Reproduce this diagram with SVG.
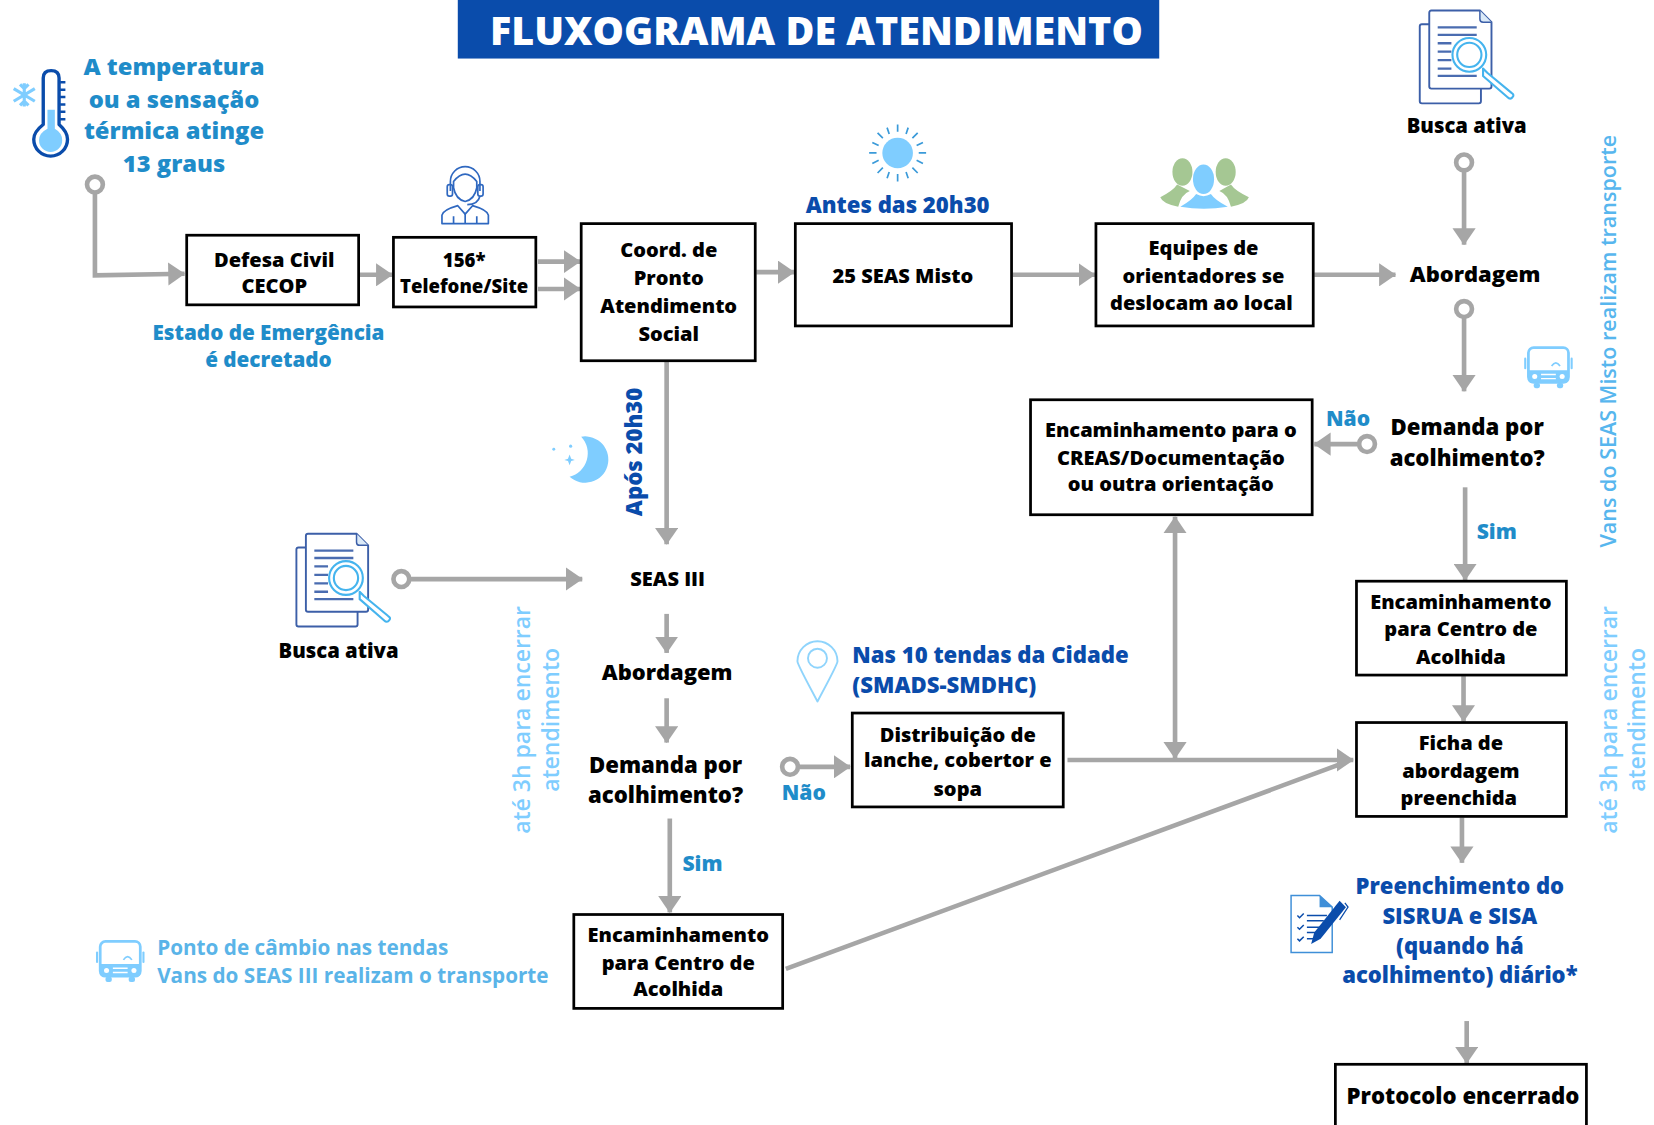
<svg xmlns="http://www.w3.org/2000/svg" xmlns:xlink="http://www.w3.org/1999/xlink" width="1654" height="1125" viewBox="0 0 1654 1125">
<style>
text{font-family:"Open Sans","Noto Sans","Liberation Sans",sans-serif;font-weight:800;text-anchor:middle}
.b{fill:#000;font-size:19px}
.b2{fill:#000;font-size:21px}
.c{fill:#1f8cc9;font-size:20px}
.t{fill:#1f8cc9;font-size:22.5px}
.e{fill:#1f8cc9;font-size:19.6px}
.d{fill:#0a4cab;font-size:21px}
.l{fill:#7fcdff;font-size:21.8px;font-weight:600}
.v{fill:#57b6ee;font-size:20.4px;font-weight:600}
.p{fill:#5ab4e8;font-size:19.65px;font-weight:700;text-anchor:start}
.s{text-anchor:start}
.box{fill:#fff;stroke:#000;stroke-width:2.6}
.con{fill:none;stroke:#a6a6a6;stroke-width:4.4}
.ring{fill:#fff;stroke:#a6a6a6;stroke-width:4.4}
</style>
<defs>
<marker id="ah" markerUnits="userSpaceOnUse" viewBox="0 0 16 22" markerWidth="16" markerHeight="22" refX="15.5" refY="11" orient="auto-start-reverse"><path d="M0,0 L16,11 L0,22 Z" fill="#a6a6a6"/></marker>
<symbol id="doc" viewBox="0 0 92 92" width="92" height="92" overflow="visible">
<path d="M10,14 H3 Q1,14 1,16 V87 Q1,89 3,89 H57 Q59,89 59,87 V75" fill="none" stroke="#3c5fa8" stroke-width="1.8"/>
<path d="M12,1 H58 L69,12 V73 Q69,75 67,75 H12 Q10,75 10,73 V3 Q10,1 12,1 Z" fill="#fff" stroke="#3c5fa8" stroke-width="1.8"/>
<path d="M58,1 V9 Q58,12 61,12 H69" fill="#dbeaf8" stroke="#3c5fa8" stroke-width="1.4"/>
<path d="M18,17H55M18,24H55M18,32H31M18,40H31M18,48H31M18,56H31M18,63H55" stroke="#4a6cb0" stroke-width="2.2" fill="none"/>
<circle cx="48" cy="43" r="16" fill="#fff" stroke="#45b4ee" stroke-width="2"/>
<circle cx="48" cy="43" r="11.5" fill="#fff" stroke="#45b4ee" stroke-width="2"/>
<path d="M61,56 L65,60 L88,79 Q91,81 89,83 Q87,86 84,83 L61,63 Z" fill="#fff" stroke="#45b4ee" stroke-width="2" stroke-linejoin="round"/>
</symbol>
<symbol id="bus" viewBox="0 0 46 42" width="46" height="42" overflow="visible">
<rect x="4" y="1.5" width="38" height="33" rx="5" fill="none" stroke="#7fcdff" stroke-width="2.6"/>
<path d="M4,23 H42 V32 Q42,35 39,35 H7 Q4,35 4,32 Z" fill="#7fcdff"/>
<rect x="0" y="11" width="2" height="11" rx="1" fill="#7fcdff"/><rect x="44" y="11" width="2" height="11" rx="1" fill="#7fcdff"/>
<rect x="9" y="35" width="6" height="5" rx="2" fill="#7fcdff"/><rect x="31" y="35" width="6" height="5" rx="2" fill="#7fcdff"/>
<circle cx="10" cy="29" r="2.4" fill="#fff"/><circle cx="36" cy="29" r="2.4" fill="#fff"/>
<path d="M16,27H30M16,31H30" stroke="#fff" stroke-width="1.3"/>
<path d="M26,19 Q30,13 34,19" fill="none" stroke="#7fcdff" stroke-width="1.6"/>
</symbol>
</defs>
<g transform="scale(1.0548)">
<g id="connectors">
<path class="con" d="M90,182 V261 L175,259.500" marker-end="url(#ah)"/>
<path class="con" d="M341,260.500 H372" marker-end="url(#ah)"/>
<path class="con" d="M510,248 H550" marker-end="url(#ah)"/>
<path class="con" d="M510,274 H550" marker-end="url(#ah)"/>
<path class="con" d="M717,258 H753" marker-end="url(#ah)"/>
<path class="con" d="M960,260.500 H1038" marker-end="url(#ah)"/>
<path class="con" d="M1246,260.500 H1323" marker-end="url(#ah)"/>
<path class="con" d="M1388,161 V232" marker-end="url(#ah)"/>
<path class="con" d="M1388,300 V371" marker-end="url(#ah)"/>
<path class="con" d="M1289,421 H1246" marker-end="url(#ah)"/>
<path class="con" d="M1389,462 V550" marker-end="url(#ah)"/>
<path class="con" d="M1387.500,641 V684" marker-end="url(#ah)"/>
<path class="con" d="M1386,775 V818" marker-end="url(#ah)"/>
<path class="con" d="M1390.500,968 V1008" marker-end="url(#ah)"/>
<path class="con" d="M632,343 V516" marker-end="url(#ah)"/>
<path class="con" d="M387,549 H552" marker-end="url(#ah)"/>
<path class="con" d="M632,582 V619" marker-end="url(#ah)"/>
<path class="con" d="M632,662 V704" marker-end="url(#ah)"/>
<path class="con" d="M635,776 V865" marker-end="url(#ah)"/>
<path class="con" d="M756,727 H806" marker-end="url(#ah)"/>
<path class="con" d="M1012,720.500 H1283" marker-end="url(#ah)"/>
<path class="con" d="M745,918.500 L1272,724"/>
<path class="con" d="M1114,490 V719" marker-start="url(#ah)" marker-end="url(#ah)"/>
<circle class="ring" cx="90" cy="175" r="7.500"/>
<circle class="ring" cx="1388" cy="154" r="7.500"/>
<circle class="ring" cx="1388" cy="293" r="7.500"/>
<circle class="ring" cx="1296" cy="421" r="7.500"/>
<circle class="ring" cx="380.500" cy="549" r="7.500"/>
<circle class="ring" cx="749" cy="727" r="7.500"/>
</g>
<g id="title"><rect x="434" y="0" width="665" height="55.500" fill="#0a4cab"/><text x="774" y="43" fill="#fff" font-size="37.400">FLUXOGRAMA DE ATENDIMENTO</text></g>
<g id="start">
<g id="thermometer">
<path d="M41,100 V74 Q41,67 48.500,67 Q56,67 56,74 V118 Q64,125 64,132 A16,16 0 1 1 32,132 Q32,125 41,118 Z" fill="#fff" stroke="#0a4cab" stroke-width="3.200" stroke-linejoin="round"/>
<path d="M45,104 H52 V122 Q59,126 59,133 A11,11 0 1 1 37,133 Q37,126 45,122 Z" fill="#7fcdff"/>
<path d="M57,78H62M57,85H62M57,92H62M57,99H62M57,106H62M57,113H62" stroke="#0a4cab" stroke-width="2.400"/>
<path d="M23,79V101M13,84L33,96M13,96L33,84M19,80L23,84L27,80M19,100L23,96L27,100" stroke="#7fcdff" stroke-width="3" fill="none"/>
</g>
<text class="t" x="165" y="71">A temperatura</text>
<text class="t" x="165" y="102">ou a sensação</text>
<text class="t" x="165" y="132">térmica atinge</text>
<text class="t" x="165" y="163">13 graus</text>
</g>
<g id="defesa"><rect class="box" x="177" y="223" width="163" height="66"/><text class="b" x="260" y="253">Defesa Civil</text><text class="b" x="260" y="278">CECOP</text></g>
<g id="estado"><text class="e" x="254.500" y="322">Estado de Emergência</text><text class="e" x="254.500" y="348">é decretado</text></g>
<g id="telefone">
<g fill="none" stroke="#2f68c0" stroke-width="1.600" stroke-linejoin="round">
<path d="M427,181 V172 A14,14 0 0 1 455,172 V181"/>
<path d="M430,172 Q441,158 452,172 V178 Q450,189 441,191 Q432,189 430,178 Z"/>
<rect x="424" y="175" width="5" height="11" rx="2"/><rect x="453" y="175" width="5" height="11" rx="2"/>
<path d="M455,186 Q453,194 443,194"/>
<path d="M419,212 V204 Q420,199 434,195 L441,203 L448,195 Q462,199 463,204 V212 Z"/>
<path d="M430,212 V205M452,212 V205M441,203 V212"/>
</g>
<rect class="box" x="373" y="225" width="135" height="66"/><text class="b" style="font-size:17.600px" x="440" y="253">156*</text><text class="b" style="font-size:17.600px" x="440" y="277.500">Telefone/Site</text></g>
<g id="coord"><rect class="box" x="551" y="212" width="165" height="130"/><text class="b" x="634" y="244">Coord. de</text><text class="b" x="634" y="270">Pronto</text><text class="b" x="634" y="297">Atendimento</text><text class="b" x="634" y="323">Social</text></g>
<g id="sun"><circle cx="851" cy="145" r="14.500" fill="#7fcdff"/><path d="M851,118V125M851,165V172M824,145H831M871,145H878M832,126L837,131M865,159L870,164M832,164L837,159M865,131L870,126M841,121L843,127M859,163L861,169M841,169L843,163M859,127L861,121M827,135L833,138M869,152L875,155M827,155L833,152M869,138L875,135" stroke="#3a9ad9" stroke-width="1.600"/></g>
<g id="seas-misto"><text class="d" x="851" y="202">Antes das 20h30</text><rect class="box" x="754" y="212" width="205" height="97"/><text class="b" x="856" y="268.500">25 SEAS Misto</text></g>
<g id="equipes">
<g fill="#a5c793"><ellipse cx="1121" cy="163" rx="9.500" ry="13"/><ellipse cx="1162" cy="163" rx="9.500" ry="13"/><path d="M1116,175 Q1112,181 1100,187 Q1102,193 1117,196 Q1120,184 1128,181 Z"/><path d="M1167,175 Q1171,181 1184,187 Q1182,193 1167,196 Q1164,184 1156,181 Z"/></g>
<ellipse cx="1141" cy="170" rx="10" ry="14" fill="#7fcdff"/><path d="M1134,184 Q1130,190 1119,196 Q1141,200 1164,196 Q1152,190 1148,184 Q1141,188 1134,184 Z" fill="#7fcdff"/>
<rect class="box" x="1039" y="212" width="206" height="97"/><text class="b" x="1141" y="242">Equipes de</text><text class="b" x="1141" y="268">orientadores se</text><text class="b" x="1139" y="294">deslocam ao local</text></g>
<g id="busca-1"><use xlink:href="#doc" href="#doc" x="1345" y="9"/><text class="b" style="font-size:19.200px" x="1390.500" y="126.500">Busca ativa</text></g>
<g id="abordagem-1"><text class="b2" style="font-size:20.800px" x="1398.500" y="267">Abordagem</text></g>
<g id="bus-1"><use xlink:href="#bus" href="#bus" x="1445" y="328"/></g>
<g id="demanda-1"><text class="b2" x="1391" y="412">Demanda por</text><text class="b2" x="1391" y="442">acolhimento?</text></g>
<g id="lbl-nao-1"><text class="c" x="1278" y="404">Não</text></g>
<g id="lbl-sim-1"><text class="c" x="1419" y="511">Sim</text></g>
<g id="creas"><rect class="box" x="977" y="379" width="267" height="109"/><text class="b" x="1110" y="414">Encaminhamento para o</text><text class="b" x="1110" y="440.500">CREAS/Documentação</text><text class="b" x="1110" y="465.500">ou outra orientação</text></g>
<g id="centro-1"><rect class="box" x="1286" y="551" width="199" height="89"/><text class="b" x="1385" y="577.500">Encaminhamento</text><text class="b" x="1385" y="602.500">para Centro de</text><text class="b" x="1385" y="629.500">Acolhida</text></g>
<g id="ficha"><rect class="box" x="1286" y="685" width="199" height="89"/><text class="b" x="1385" y="711.500">Ficha de</text><text class="b" x="1385" y="737.500">abordagem</text><text class="b" x="1383" y="763.500">preenchida</text></g>
<g id="sisrua">
<path d="M1224,849 H1251 L1263,860 V903 H1224 Z" fill="#fff" stroke="#3f8fd8" stroke-width="1.400"/><path d="M1251,849 L1263,860 H1251 Z" fill="#3f8fd8"/>
<path d="M1230,868L1232,870L1236,866M1230,879L1232,881L1236,877M1230,890L1232,892L1236,888M1239,868H1258M1239,873H1255M1239,879H1252M1239,884H1249M1239,890H1245" stroke="#0a4cab" stroke-width="1.400" fill="none"/>
<path d="M1270,854 L1276,860 L1252,890 L1243,895 L1246,884 Z" fill="#0a4cab"/><path d="M1275,856 L1278,860 L1270,872" fill="none" stroke="#0a4cab" stroke-width="1.200"/>
<text class="d" style="font-size:20.900px" x="1384" y="848">Preenchimento do</text><text class="d" style="font-size:20.900px" x="1384" y="876">SISRUA e SISA</text><text class="d" style="font-size:20.900px" x="1384" y="904">(quando há</text><text class="d" style="font-size:20.900px" x="1384" y="932">acolhimento) diário*</text></g>
<g id="protocolo"><rect class="box" x="1266" y="1009" width="238" height="80"/><text class="b2" x="1387" y="1047">Protocolo encerrado</text></g>
<g id="apos"><text class="d" transform="translate(609,428.500) rotate(-90)">Após 20h30</text>
<path d="M551,414 A22,22 0 1 1 540,452 A23,23 0 0 0 551,414 Z" fill="#7fcdff"/><circle cx="525" cy="426" r="1.400" fill="#7fcdff"/><circle cx="541" cy="423" r="1.500" fill="#7fcdff"/><path d="M540,431L541.500,435L545,436L541.500,437L540,441L538.500,437L535,436L538.500,435Z" fill="#7fcdff"/></g>
<g id="busca-2"><use xlink:href="#doc" href="#doc" x="280" y="505"/><text class="b" style="font-size:19.200px" x="321" y="623.500">Busca ativa</text></g>
<g id="seas3"><text class="b" x="633" y="556">SEAS III</text></g>
<g id="abordagem-2"><text class="b2" style="font-size:20.800px" x="632.500" y="645">Abordagem</text></g>
<g id="demanda-2"><text class="b2" x="631" y="733">Demanda por</text><text class="b2" x="631" y="761">acolhimento?</text></g>
<g id="lbl-sim-2"><text class="c" x="666" y="826">Sim</text></g>
<g id="lbl-nao-2"><text class="c" x="762" y="758">Não</text></g>
<g id="tendas">
<path d="M775,665 Q756,630 756,627 A19,19 0 0 1 794,627 Q794,630 775,665 Z" fill="none" stroke="#8fd4fc" stroke-width="1.800" stroke-linejoin="round"/><circle cx="775" cy="624" r="9" fill="none" stroke="#8fd4fc" stroke-width="1.800"/>
<text class="d s" x="808" y="629">Nas 10 tendas da Cidade</text><text class="d s" x="808" y="657">(SMADS-SMDHC)</text></g>
<g id="distribuicao"><rect class="box" x="808" y="676" width="200" height="89"/><text class="b" x="908" y="703">Distribuição de</text><text class="b" x="908" y="727.500">lanche, cobertor e</text><text class="b" x="908" y="754.500">sopa</text></g>
<g id="centro-2"><rect class="box" x="544" y="867" width="198" height="89"/><text class="b" x="643" y="893">Encaminhamento</text><text class="b" x="643" y="919.500">para Centro de</text><text class="b" x="643" y="944.500">Acolhida</text></g>
<g id="ponto"><use xlink:href="#bus" href="#bus" x="91" y="891"/><text class="p" x="149" y="905">Ponto de câmbio nas tendas</text><text class="p" x="149" y="932">Vans do SEAS III realizam o transporte</text></g>
<g id="vert-left"><text class="l" transform="translate(502,682.500) rotate(-90)">até 3h para encerrar</text><text class="l" transform="translate(530,682.500) rotate(-90)">atendimento</text></g>
<g id="vert-right"><text class="l" transform="translate(1533,682.500) rotate(-90)">até 3h para encerrar</text><text class="l" transform="translate(1560,682.500) rotate(-90)">atendimento</text>
<text class="v" transform="translate(1532,323.500) rotate(-90)">Vans do SEAS Misto realizam transporte</text></g>
</g>
</svg>
